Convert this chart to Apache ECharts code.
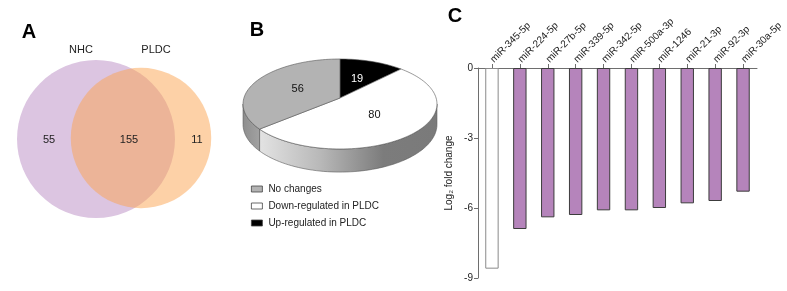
<!DOCTYPE html>
<html><head><meta charset="utf-8">
<script src="https://cdn.jsdelivr.net/npm/echarts@6/dist/echarts.min.js"></script>
<style>html,body{margin:0;padding:0;background:#fff}#c{width:787px;height:291px}</style>
</head><body><div id="c"></div>
<script>
// ---------- Panel A: Venn ----------
const vennSets = ['NHC', 'PLDC'];
const vennOnlyA = 55;
const vennBoth = 155;
const vennOnlyB = 11;
// ---------- Panel B: pie (clockwise from 12 o'clock) ----------
const pieNames = ['Up-regulated in PLDC', 'Down-regulated in PLDC', 'No changes'];
const pieValues = [19, 80, 56];
const legendOrder = ['No changes', 'Down-regulated in PLDC', 'Up-regulated in PLDC'];
// ---------- Panel C: bars ----------
const mirnas = ['miR-345-5p', 'miR-224-5p', 'miR-27b-5p', 'miR-339-5p', 'miR-342-5p',
                'miR-500a-3p', 'miR-1246', 'miR-21-3p', 'miR-92-3p', 'miR-30a-5p'];
const log2fc = [-8.6, -6.9, -6.4, -6.3, -6.1, -6.1, -6.0, -5.8, -5.7, -5.3];
const yMin = -9, yMax = 0, yStep = 3;

// ---------- styles / layout ----------
const FONT = 'Liberation Sans, Arial, Helvetica, sans-serif';
const vennFill = ['rgb(220,197,225)', 'rgba(252,164,80,0.5)'];
const vennCenters = [[96, 139], [141, 138]];
const vennScale = 5.45;
const pieFill = ['#000000', '#ffffff', '#b3b3b3'];
const pieLabelColor = ['#ffffff', '#111', '#111'];
const P = {cx: 340, cy: 98, k: 96.1, a: 44.2, c: 0.1333, depth: 20};
const barFill = ['#ffffff', '#b584bb', '#b584bb', '#b584bb', '#b584bb', '#b584bb', '#b584bb', '#b584bb', '#b584bb', '#b584bb'];
const barBorder = ['#8a8a8a', '#3c3c3c', '#3c3c3c', '#3c3c3c', '#3c3c3c', '#3c3c3c', '#3c3c3c', '#3c3c3c', '#3c3c3c', '#3c3c3c'];

const chart = echarts.init(document.getElementById('c'), null, {renderer: 'canvas'});

// perspective projection of a point on the pie plane
function proj(theta, r, dz) {
  const t = theta * Math.PI / 180;
  const X = r * Math.sin(t), Z = r * Math.cos(t);
  const d = 1 + P.c * Z;
  return [P.cx + P.k * X / d, P.cy - P.a * Z / d + (dz || 0) / d];
}
function arc(a0, a1, r, dz) {
  const pts = [];
  const n = Math.max(2, Math.ceil(Math.abs(a1 - a0) / 2));
  for (let i = 0; i <= n; i++) pts.push(proj(a0 + (a1 - a0) * i / n, r, dz));
  return pts;
}
const pieTotal = pieValues.reduce((s, v) => s + v, 0);
const pieStart = [];
{ let acc = 0; pieValues.forEach(v => { pieStart.push(acc / pieTotal * 360); acc += v; }); }
const wallLo = Math.acos(-P.c) * 180 / Math.PI;       // left/right silhouette
const wallHi = 360 - wallLo;

function wallFill(i) {
  if (pieFill[i] === '#ffffff') {
    return {type: 'linear', x: 258, y: 0, x2: 437, y2: 0, global: true,
      colorStops: [{offset: 0, color: '#e4e4e4'}, {offset: 0.35, color: '#b8b8b8'},
                   {offset: 0.7, color: '#7c7c7c'}, {offset: 1, color: '#7a7a7a'}]};
  }
  if (pieFill[i] === '#000000') return '#222';
  return {type: 'linear', x: 243, y: 0, x2: 262, y2: 0, global: true,
    colorStops: [{offset: 0, color: '#8e8e8e'}, {offset: 1, color: '#a4a4a4'}]};
}

function pieRender(i) {
  return function (params, api) {
    const a0 = pieStart[i], a1 = a0 + pieValues[i] / pieTotal * 360;
    const children = [];
    const s = Math.max(a0, wallLo), e = Math.min(a1, wallHi);
    if (s < e) {
      const top = arc(s, e, 1, 0);
      const bot = arc(e, s, 1, P.depth);
      children.push({type: 'polygon', shape: {points: top.concat(bot)},
        style: {fill: wallFill(i), stroke: '#5a5a5a', lineWidth: 0.6}});
    }
    const face = [proj(0, 0)].concat(arc(a0, a1, 1, 0));
    children.push({type: 'polygon', shape: {points: face},
      style: {fill: pieFill[i], stroke: '#555', lineWidth: 0.6}});
    const m = (a0 + a1) / 2;
    const lp = proj(m, 0.5);
    children.push({type: 'text', x: lp[0], y: lp[1],
      style: {text: String(pieValues[i]), fill: pieLabelColor[i], font: '11px ' + FONT,
              align: 'center', verticalAlign: 'middle'}});
    return {type: 'group', children: children};
  };
}

const vennTotals = [vennOnlyA + vennBoth, vennOnlyB + vennBoth];

const series = [];
series.push({
  type: 'custom', name: 'venn', coordinateSystem: 'none', silent: true, z: 1,
  data: vennTotals.map((v, i) => [i, v]),
  renderItem: function (params, api) {
    const i = params.dataIndex;
    const r = vennScale * Math.sqrt(vennTotals[i]);
    return {type: 'circle', shape: {cx: vennCenters[i][0], cy: vennCenters[i][1], r: r},
            style: {fill: vennFill[i]}};
  }
});
pieNames.forEach((nm, i) => {
  series.push({
    type: 'custom', name: nm, coordinateSystem: 'none', silent: true,
    itemStyle: {color: pieFill[i]},
    data: [[i, pieValues[i]]],
    renderItem: pieRender(i)
  });
});
series.push({
  type: 'bar', name: 'log2fc', xAxisIndex: 0, yAxisIndex: 0, barWidth: '48%', silent: true,
  data: log2fc.map((v, i) => ({value: v, itemStyle: {color: barFill[i], borderColor: barBorder[i], borderWidth: 1}}))
});

const panelLetter = (t, x, y) => ({type: 'text', x: x, y: y, z: 100,
  style: {text: t, font: 'bold 20px ' + FONT, fill: '#000', align: 'center', verticalAlign: 'middle'}});
const plainText = (t, x, y) => ({type: 'text', x: x, y: y, z: 100,
  style: {text: t, font: '11px ' + FONT, fill: '#222', align: 'center', verticalAlign: 'middle'}});

chart.setOption({
  animation: false,
  backgroundColor: '#fff',
  textStyle: {fontFamily: FONT},
  legend: {
    data: legendOrder, orient: 'vertical', left: 246, top: 179, itemGap: 7,
    itemWidth: 11, itemHeight: 6, icon: 'rect', selectedMode: false,
    itemStyle: {borderColor: '#444', borderWidth: 0.8},
    textStyle: {fontSize: 10, color: '#222', fontFamily: FONT, padding: [0, 0, 0, 1]}
  },
  grid: {left: 478, right: 30, top: 68, bottom: 13, containLabel: false},
  xAxis: {
    type: 'category', position: 'top', data: mirnas,
    axisLine: {show: true, onZero: false, lineStyle: {color: '#6e6e6e', width: 1}},
    axisTick: {show: true, alignWithLabel: true, length: 4, lineStyle: {color: '#6e6e6e'}},
    axisLabel: {rotate: -45, fontSize: 10, color: '#222', margin: 7, fontFamily: FONT}
  },
  yAxis: {
    type: 'value', min: yMin, max: yMax, interval: yStep,
    name: 'Log\u2082 fold change', nameLocation: 'middle', nameGap: 24,
    nameTextStyle: {fontSize: 10, color: '#222', fontFamily: FONT},
    axisLine: {show: true, lineStyle: {color: '#6e6e6e', width: 1}},
    axisTick: {show: true, length: 4, lineStyle: {color: '#6e6e6e'}},
    axisLabel: {fontSize: 10, color: '#222', margin: 5, fontFamily: FONT},
    splitLine: {show: false}
  },
  graphic: {elements: [
    panelLetter('A', 29, 32), panelLetter('B', 257, 30), panelLetter('C', 455, 16),
    plainText(vennSets[0], 81, 50), plainText(vennSets[1], 156, 50),
    plainText(String(vennOnlyA), 49, 140), plainText(String(vennBoth), 129, 140),
    plainText(String(vennOnlyB), 197, 140)
  ]},
  series: series
});
</script></body></html>
